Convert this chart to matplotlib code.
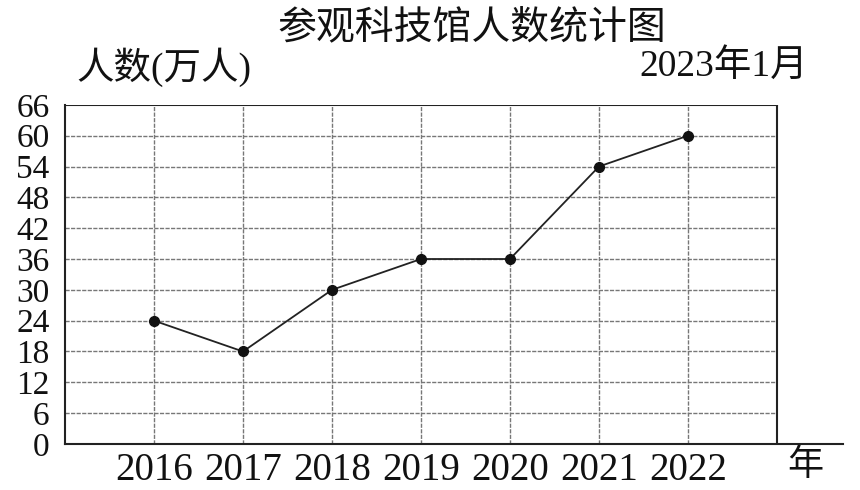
import matplotlib
matplotlib.use("Agg")
import matplotlib.pyplot as plt

years = [2016, 2017, 2018, 2019, 2020, 2021, 2022]
visitors = [24, 18, 30, 36, 36, 54, 60]
yticks = [0, 6, 12, 18, 24, 30, 36, 42, 48, 54, 60, 66]

title = "参观科技馆人数统计图"
ylabel = "人数(万人)"
date_note = "2023年1月"
xunit = "年"

serif = ["Liberation Serif", "DejaVu Serif"]
cjk = ["Noto Sans CJK SC", "DejaVu Sans"]
mixed = ["Liberation Serif", "Noto Sans CJK SC"]

fig = plt.figure(figsize=(8.6, 4.9), dpi=100)
ax = fig.add_axes([0.0756, 0.0939, 0.9044, 0.6921])

x0, x1 = years[0] - 1, years[-1] + 1
ax.set_xlim(x0, x1 + 0.74)
ax.set_ylim(0, 66)

# grid
for y in yticks[1:-1]:
    ax.plot([x0, x1], [y, y], color="#777777", lw=1.0, ls=(0, (3, 1)), zorder=1)
for x in years:
    ax.plot([x, x], [0, 66], color="#777777", lw=1.0, ls=(0, (3, 1)), zorder=1)
# box
ax.plot([x0, x1], [66, 66], color="#222222", lw=1.5, zorder=2)
ax.plot([x1, x1], [0, 66], color="#222222", lw=1.5, zorder=2)

ax.plot(years, visitors, color="#222222", lw=1.3, marker="o", ms=7,
        markerfacecolor="#111111", markeredgecolor="#111111", zorder=3)

for s in ["top", "right"]:
    ax.spines[s].set_visible(False)
ax.spines["left"].set_linewidth(1.5)
ax.spines["bottom"].set_linewidth(1.5)
ax.spines["left"].set_color("#222222")
ax.spines["bottom"].set_color("#222222")

ax.set_yticks(yticks)
ax.set_yticklabels([str(v) for v in yticks], fontfamily=serif, fontsize=24)
ax.set_xticks(years)
ax.set_xticklabels([str(v) for v in years], fontfamily=serif, fontsize=28)
ax.tick_params(axis="both", length=0, colors="#111111")
ax.tick_params(axis="y", pad=11)
ax.tick_params(axis="x", pad=6)

fig.text(0.549, 0.942, title, fontfamily=cjk, fontsize=28, ha="center", va="center", color="#111111")
fig.text(0.089, 0.863, ylabel, fontfamily=mixed, fontsize=27, ha="left", va="center", color="#111111")
fig.text(0.94, 0.865, date_note, fontfamily=mixed, fontsize=27, ha="right", va="center", color="#111111")
fig.text(0.936, 0.051, xunit, fontfamily=cjk, fontsize=26, ha="center", va="center", color="#111111")

fig.savefig("out.png", dpi=100)
